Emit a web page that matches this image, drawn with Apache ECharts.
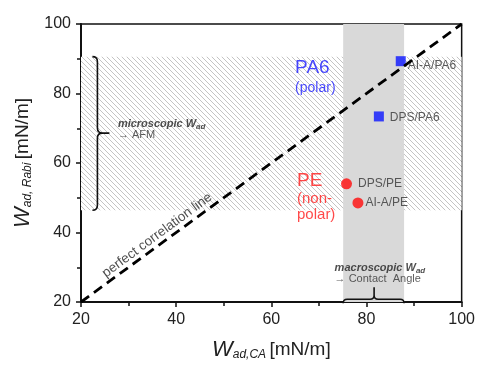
<!doctype html>
<html>
<head>
<meta charset="utf-8">
<script src="https://cdn.jsdelivr.net/npm/echarts@6/dist/echarts.min.js"></script>
<style>
  html, body { margin: 0; padding: 0; background: #fff; }
  #chart { width: 478px; height: 366px; }
</style>
</head>
<body>
<div id="chart"></div>
<script>
  // values
  var axisMin = 20, axisMax = 100, axisStep = 20;
  var diagonal = [[20, 20], [100, 100]];
  var pa6Points = [[87.2, 89.3, 'AI-A/PA6'], [82.6, 73.4, 'DPS/PA6']];
  var pePoints = [[75.8, 54.0, 'DPS/PE'], [78.2, 48.5, 'AI-A/PE']];
  var afmRange = [46.4, 90.6];      // hatched band (y)
  var caRange = [75.1, 87.9];       // grey band (x)
  var afmBrace = [23.45, 46.4, 90.6, 68.6];   // x, y0, y1, ymid
  var caBrace = [20.5, 75.1, 87.9, 81.6];     // y, x0, x1, xmid

  var font = 'Liberation Sans, Arial, sans-serif';

  // hatch pattern
  var hatch = document.createElement('canvas');
  hatch.width = 5; hatch.height = 5;
  var hc = hatch.getContext('2d');
  hc.fillStyle = '#fff';
  hc.fillRect(0, 0, 5, 5);
  hc.strokeStyle = '#c4c4c4';
  hc.lineWidth = 1;
  hc.beginPath();
  hc.moveTo(-1, -1); hc.lineTo(6, 6);
  hc.moveTo(-1, 4); hc.lineTo(1, 6);
  hc.moveTo(4, -1); hc.lineTo(6, 1);
  hc.stroke();

  var chart = echarts.init(document.getElementById('chart'));

  function renderBrace(params, api) {
    var r = 5, p;
    if (params.dataIndex === 0) {
      var top = api.coord([afmBrace[0], afmBrace[2]]);
      var bot = api.coord([afmBrace[0], afmBrace[1]]);
      var mid = api.coord([afmBrace[0], afmBrace[3]]);
      var x = top[0];
      p = 'M' + (x - r) + ' ' + top[1] + ' Q' + x + ' ' + top[1] + ' ' + x + ' ' + (top[1] + r) +
        ' L' + x + ' ' + (mid[1] - r) + ' Q' + x + ' ' + mid[1] + ' ' + (x + r) + ' ' + mid[1] +
        ' L' + (x + 12) + ' ' + mid[1] +
        ' M' + (x + r) + ' ' + mid[1] + ' Q' + x + ' ' + mid[1] + ' ' + x + ' ' + (mid[1] + r) +
        ' L' + x + ' ' + (bot[1] - r) + ' Q' + x + ' ' + bot[1] + ' ' + (x - r) + ' ' + bot[1];
    } else {
      var l = api.coord([caBrace[1], caBrace[0]]);
      var rr = api.coord([caBrace[2], caBrace[0]]);
      var m = api.coord([caBrace[3], caBrace[0]]);
      var y = l[1] - 1, q = 4;
      p = 'M' + l[0] + ' ' + (y + q) + ' Q' + l[0] + ' ' + y + ' ' + (l[0] + q) + ' ' + y +
        ' L' + (m[0] - q) + ' ' + y + ' Q' + m[0] + ' ' + y + ' ' + m[0] + ' ' + (y - q) +
        ' L' + m[0] + ' ' + (y - 12) +
        ' M' + m[0] + ' ' + (y - q) + ' Q' + m[0] + ' ' + y + ' ' + (m[0] + q) + ' ' + y +
        ' L' + (rr[0] - q) + ' ' + y + ' Q' + rr[0] + ' ' + y + ' ' + rr[0] + ' ' + (y + q);
    }
    return {
      type: 'path',
      shape: { pathData: p },
      style: { fill: null, stroke: '#111', lineWidth: 1.6 }
    };
  }

  var notes = [
    { value: [65.0, 87.3], text: 'PA6', color: '#1a1aff', size: 19 },
    { value: [65.0, 81.4], text: '(polar)', color: '#1a1aff', size: 14 },
    { value: [65.4, 54.8], text: 'PE', color: '#ff1a1a', size: 19 },
    { value: [65.4, 49.7], text: '(non-', color: '#ff1a1a', size: 15 },
    { value: [65.4, 45.2], text: 'polar)', color: '#ff1a1a', size: 15 },
    { value: [27.75, 71.2], text: '{b|microscopic W}{s|ad}', color: '#222', size: 11 },
    { value: [27.75, 68.1], text: '\u2192 AFM', color: '#333', size: 11 },
    { value: [73.3, 29.7], text: '{b|macroscopic W}{s|ad}', color: '#222', size: 11 },
    { value: [73.3, 26.6], text: '\u2192 Contact  Angle', color: '#333', size: 11 }
  ];

  var noteData = notes.map(function (n) {
    return {
      value: n.value,
      label: { formatter: n.text, color: n.color, fontSize: n.size }
    };
  });

  var subRich = {
    b: { fontFamily: font, fontSize: 11, fontWeight: 'bold', fontStyle: 'italic', color: '#222' },
    s: { fontFamily: font, fontSize: 8, fontWeight: 'bold', fontStyle: 'italic', color: '#222', padding: [5, 0, 0, 0] }
  };

  var pointLabel = {
    show: true, position: 'right',
    formatter: function (p) { return p.value[2]; },
    color: '#333', fontSize: 12, fontFamily: font
  };

  var axisRich = {
    w: { fontFamily: font, fontSize: 22, fontStyle: 'italic', color: '#222' },
    s: { fontFamily: font, fontSize: 12, fontStyle: 'italic', color: '#222', padding: [10, 0, 0, 0] },
    u: { fontFamily: font, fontSize: 19, color: '#222' }
  };

  var option = {
    animation: false,
    grid: { left: 81, right: 15, top: 24, bottom: 59, show: true, borderColor: '#111', borderWidth: 1.5 },
    xAxis: {
      type: 'value', min: axisMin, max: axisMax, interval: axisStep,
      name: '{w|W}{s|ad,CA} {u|[mN/m]}', nameLocation: 'middle', nameGap: 37,
      nameTextStyle: { rich: axisRich },
      splitLine: { show: false },
      axisLine: { lineStyle: { color: '#111', width: 2 } },
      axisTick: { inside: false, length: 5, lineStyle: { color: '#111', width: 1.5 } },
      minorTick: { show: true, splitNumber: 2, length: 4, lineStyle: { color: '#111', width: 1.5 } },
      axisLabel: { margin: 10, fontSize: 16, color: '#222', fontFamily: font }
    },
    yAxis: {
      type: 'value', min: axisMin, max: axisMax, interval: axisStep,
      name: '{w|W}{s|ad, Rabi} {u|[mN/m]}', nameLocation: 'middle', nameGap: 46, nameRotate: 90,
      nameTextStyle: { rich: axisRich },
      splitLine: { show: false },
      axisLine: { lineStyle: { color: '#111', width: 2 } },
      axisTick: { inside: false, length: 5, lineStyle: { color: '#111', width: 1.5 } },
      minorTick: { show: true, splitNumber: 2, length: 4, lineStyle: { color: '#111', width: 1.5 } },
      axisLabel: { margin: 10, fontSize: 16, color: '#222', fontFamily: font }
    },
    series: [
      {
        name: 'bands', type: 'line', data: [], silent: true,
        markArea: {
          silent: true,
          data: [
            [{ xAxis: axisMin, yAxis: afmRange[0], itemStyle: { color: { image: hatch, repeat: 'repeat' } } },
             { xAxis: axisMax, yAxis: afmRange[1] }],
            [{ xAxis: caRange[0], yAxis: axisMin, itemStyle: { color: '#d9d9d9' } },
             { xAxis: caRange[1], yAxis: axisMax }]
          ]
        }
      },
      {
        name: 'perfect correlation line', type: 'line', data: diagonal, symbol: 'none', silent: true,
        lineStyle: { color: '#000', width: 2.8, type: [10, 6] }
      },
      {
        name: 'braces', type: 'custom', renderItem: renderBrace, data: [[afmBrace[0], afmBrace[3]], [caBrace[3], caBrace[0]]], silent: true
      },
      {
        name: 'notes', type: 'scatter', symbolSize: 0, silent: true, data: noteData,
        label: { show: true, position: 'right', distance: 0, fontFamily: font, rich: subRich }
      },
      {
        name: 'diag label', type: 'scatter', symbolSize: 0, silent: true, data: [[36.0, 39.2]],
        label: { show: true, position: 'inside', rotate: 36.4, formatter: 'perfect correlation line', fontSize: 13.5, color: '#222', fontFamily: font }
      },
      {
        name: 'PA6', type: 'scatter', symbol: 'rect', symbolSize: 10, silent: true,
        itemStyle: { color: '#0a14ff' },
        label: pointLabel,
        data: [
          { value: pa6Points[0], label: { distance: 2, offset: [0, 5] } },
          { value: pa6Points[1], label: { distance: 6, offset: [0, 1] } }
        ]
      },
      {
        name: 'PE', type: 'scatter', symbol: 'circle', symbolSize: 11, silent: true,
        itemStyle: { color: '#ff0a0a' },
        label: pointLabel,
        data: [
          { value: pePoints[0], label: { distance: 6 } },
          { value: pePoints[1], label: { distance: 2 } }
        ]
      }
    ]
  };
  chart.setOption(option);
</script>
</body>
</html>
